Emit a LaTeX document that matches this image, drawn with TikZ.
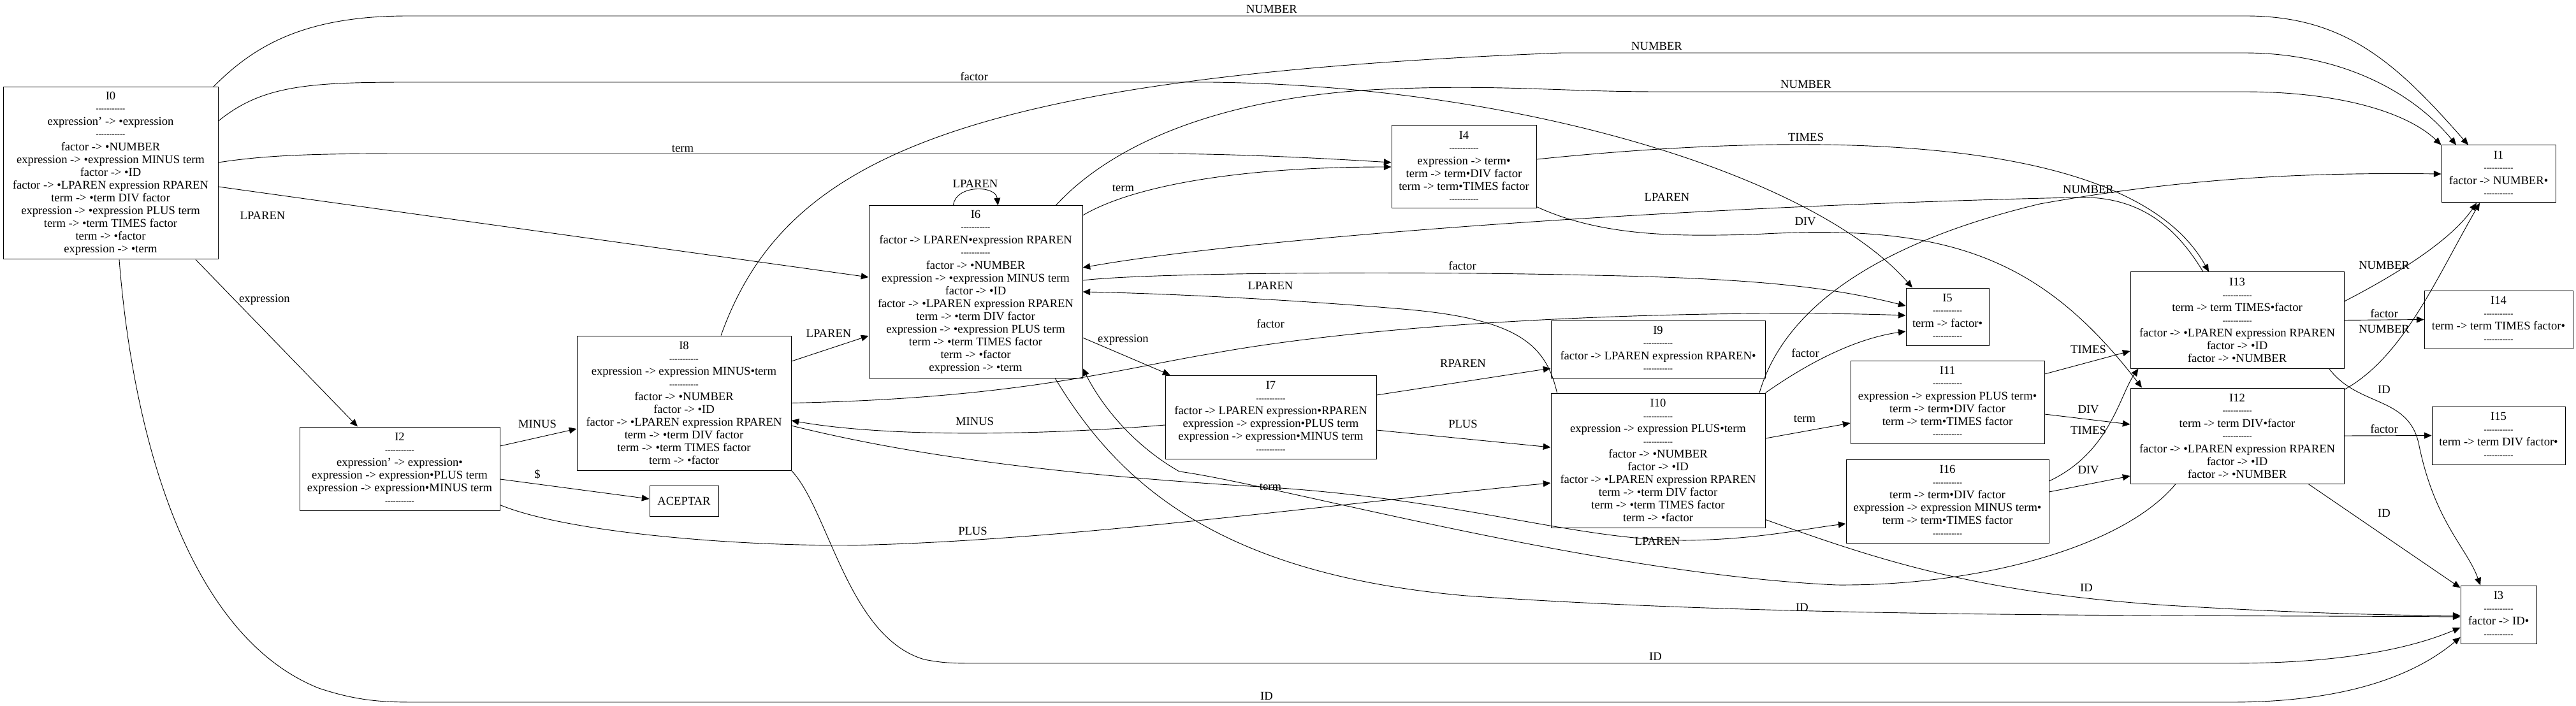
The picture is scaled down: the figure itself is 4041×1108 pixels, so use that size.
\documentclass[tikz,border=0pt]{standalone}
\usepackage{fontspec}
\setmainfont{Liberation Serif}
\usepackage{graphicx}
\usetikzlibrary{arrows.meta}
\newcommand{\rayas}{\raisebox{.9pt}{\bfseries\fontsize{7.5}{12}\selectfont -\kern0pt-\kern0pt-\kern0pt-\kern0pt-\kern0pt-\kern0pt-\kern0pt-\kern0pt-\kern0pt-\kern0pt-}}

\begin{document}
\begin{tikzpicture}[x=0.6pt,y=-0.6pt,
  font=\fontsize{11.16}{12}\selectfont,
  estado/.style 2 args={draw,line width=0.6pt,align=center,inner sep=0pt,minimum width=#1*0.6pt,minimum height=#2*0.6pt},
  flecha/.style={-{Triangle[length=7pt,width=6pt]},line width=0.55pt},
  etiq/.style={inner sep=1pt}]
\useasboundingbox (0,0) rectangle (4041,1108);

\node[estado={337}{270}] (I0) at (173.5,272) {I0\\\rayas\\expression' -> •expression\\\rayas\\factor -> •NUMBER\\expression -> •expression MINUS term\\factor -> •ID\\factor -> •LPAREN expression RPAREN\\term -> •term DIV factor\\expression -> •expression PLUS term\\term -> •term TIMES factor\\term -> •factor\\expression -> •term};
\node[estado={314}{131}] (I2) at (627,735.5) {I2\\\rayas\\expression' -> expression•\\expression -> expression•PLUS term\\expression -> expression•MINUS term\\\rayas};
\node[estado={108}{48}] (acep) at (1073,786) {ACEPTAR};
\node[estado={336}{211}] (I8) at (1073,632.5) {I8\\\rayas\\expression -> expression MINUS•term\\\rayas\\factor -> •NUMBER\\factor -> •ID\\factor -> •LPAREN expression RPAREN\\term -> •term DIV factor\\term -> •term TIMES factor\\term -> •factor};
\node[estado={335}{270}] (I6) at (1530.5,458) {I6\\\rayas\\factor -> LPAREN•expression RPAREN\\\rayas\\factor -> •NUMBER\\expression -> •expression MINUS term\\factor -> •ID\\factor -> •LPAREN expression RPAREN\\term -> •term DIV factor\\expression -> •expression PLUS term\\term -> •term TIMES factor\\term -> •factor\\expression -> •term};
\node[estado={227}{130}] (I4) at (2296.5,262) {I4\\\rayas\\expression -> term•\\term -> term•DIV factor\\term -> term•TIMES factor\\\rayas};
\node[estado={331}{131}] (I7) at (1993.5,654.5) {I7\\\rayas\\factor -> LPAREN expression•RPAREN\\expression -> expression•PLUS term\\expression -> expression•MINUS term\\\rayas};
\node[estado={336}{90}] (I9) at (2601,548) {I9\\\rayas\\factor -> LPAREN expression RPAREN•\\\rayas};
\node[estado={336}{211}] (I10) at (2601,722.5) {I10\\\rayas\\expression -> expression PLUS•term\\\rayas\\factor -> •NUMBER\\factor -> •ID\\factor -> •LPAREN expression RPAREN\\term -> •term DIV factor\\term -> •term TIMES factor\\term -> •factor};
\node[estado={130}{90}] (I5) at (3055,497) {I5\\\rayas\\term -> factor•\\\rayas};
\node[estado={304}{130}] (I11) at (3055,631) {I11\\\rayas\\expression -> expression PLUS term•\\term -> term•DIV factor\\term -> term•TIMES factor\\\rayas};
\node[estado={318}{131}] (I16) at (3055,786.5) {I16\\\rayas\\term -> term•DIV factor\\expression -> expression MINUS term•\\term -> term•TIMES factor\\\rayas};
\node[estado={335}{151}] (I13) at (3509.5,502.5) {I13\\\rayas\\term -> term TIMES•factor\\\rayas\\factor -> •LPAREN expression RPAREN\\factor -> •ID\\factor -> •NUMBER};
\node[estado={335}{150}] (I12) at (3509.5,684) {I12\\\rayas\\term -> term DIV•factor\\\rayas\\factor -> •LPAREN expression RPAREN\\factor -> •ID\\factor -> •NUMBER};
\node[estado={179}{90}] (I1) at (3919.5,273) {I1\\\rayas\\factor -> NUMBER•\\\rayas};
\node[estado={233}{91}] (I14) at (3919.5,501.5) {I14\\\rayas\\term -> term TIMES factor•\\\rayas};
\node[estado={209}{91}] (I15) at (3919.5,683.5) {I15\\\rayas\\term -> term DIV factor•\\\rayas};
\node[estado={119}{91}] (I3) at (3919.5,964.5) {I3\\\rayas\\factor -> ID•\\\rayas};

\node[etiq] (l1) at (1995,15) {NUMBER};
\node[etiq] (l2) at (2599,73) {NUMBER};
\node[etiq] (l3) at (2833,133) {NUMBER};
\node[etiq] (l4) at (1528,120) {factor};
\node[etiq] (l5) at (2833,215) {TIMES};
\node[etiq] (l6) at (1071,233) {term};
\node[etiq] (l7) at (1530,288) {LPAREN};
\node[etiq] (l8) at (1762,295) {term};
\node[etiq] (l9) at (2615,309) {LPAREN};
\node[etiq] (l10) at (3276,298) {NUMBER};
\node[etiq] (l11) at (2832,348) {DIV};
\node[etiq] (l12) at (412,338) {LPAREN};
\node[etiq] (l13) at (2294,417) {factor};
\node[etiq] (l14) at (1993,448) {LPAREN};
\node[etiq] (l15) at (415,470) {expression};
\node[etiq] (l16) at (1762,533) {expression};
\node[etiq] (l17) at (1993,508) {factor};
\node[etiq] (l18) at (1300,523) {LPAREN};
\node[etiq] (l19) at (2832,554) {factor};
\node[etiq] (l20) at (2295,570) {RPAREN};
\node[etiq] (l21) at (3276,548) {TIMES};
\node[etiq] (l22) at (3740,417) {NUMBER};
\node[etiq] (l23) at (3740,492) {factor};
\node[etiq] (l24) at (3740,517) {NUMBER};
\node[etiq] (l25) at (3740,611) {ID};
\node[etiq] (l26) at (3276,643) {DIV};
\node[etiq] (l27) at (3276,675) {TIMES};
\node[etiq] (l28) at (3740,673) {factor};
\node[etiq] (l29) at (3740,805) {ID};
\node[etiq] (l30) at (843,665) {MINUS};
\node[etiq] (l31) at (1529,661) {MINUS};
\node[etiq] (l32) at (2295,665) {PLUS};
\node[etiq] (l33) at (2831,657) {term};
\node[etiq] (l34) at (843,744) {\$};
\node[etiq] (l35) at (1993,764) {term};
\node[etiq] (l36) at (1526,833) {PLUS};
\node[etiq] (l37) at (2600,849) {LPAREN};
\node[etiq] (l38) at (3276,738) {DIV};
\node[etiq] (l39) at (2827,953) {ID};
\node[etiq] (l40) at (3273,922) {ID};
\node[etiq] (l41) at (2597,1030) {ID};
\node[etiq] (l42) at (1987,1092) {ID};

% transiciones de I0
\draw[flecha] ([shift={(-8,0)}]I0.north east) .. controls (400,70) and (480,25) .. (640,25) -- (3523,25) .. controls (3680,25) and (3760,100) .. ([shift={(-47.5,0)}]I1.north);
\draw[flecha] ([shift={(0,-82)}]I0.east) .. controls (410,135) and (480,129) .. (640,129) -- (1900,129) .. controls (2400,135) and (2850,280) .. ([shift={(-55,0)}]I5.north);
\draw[flecha] ([shift={(0,-17)}]I0.east) .. controls (420,243) and (500,241) .. (640,241) -- (1800,241) .. controls (1950,241) and (2100,250) .. ([shift={(0,-7)}]I4.west);
\draw[flecha] ([shift={(0,21)}]I0.east) -- ([shift={(0,-23)}]I6.west);
\draw[flecha] ([shift={(133.5,0)}]I0.south) -- ([shift={(-66,0)}]I2.north);
\draw[flecha] ([shift={(13.5,0)}]I0.south) .. controls (210,700) and (300,1000) .. (500,1080) .. controls (560,1100) and (600,1102) .. (650,1102) -- (3500,1102) .. controls (3700,1102) and (3800,1050) .. ([shift={(0,35.5)}]I3.west);

% I2
\draw[flecha] ([shift={(0,-35.5)}]I2.east) -- ([shift={(0,40.5)}]I8.west);
\draw[flecha] ([shift={(0,16.5)}]I2.east) -- ([shift={(0,-3)}]acep.west);
\draw[flecha] ([shift={(0,-9)}]I2.south east) .. controls (900,840) and (1200,860) .. (1370,855) .. controls (1700,845) and (2100,790) .. ([shift={(0,35.5)}]I10.west);

% I8
\draw[flecha] ([shift={(58,0)}]I8.north) .. controls (1230,250) and (1500,120) .. (2450,83) -- (3520,83) .. controls (3680,83) and (3790,150) .. ([shift={(-66.5,0)}]I1.north);
\draw[flecha] ([shift={(0,-65.5)}]I8.east) -- ([shift={(0,69)}]I6.west);
\draw[flecha] (I8.east) .. controls (1600,625) and (1750,580) .. (1900,555) .. controls (2200,500) and (2700,485) .. ([shift={(0,-2)}]I5.west);
\draw[flecha] ([shift={(0,35.5)}]I8.east) .. controls (1450,720) and (1700,748) .. (1994,765) .. controls (2300,785) and (2480,850) .. (2650,848) .. controls (2760,846) and (2830,830) .. ([shift={(0,35.5)}]I16.west);
\draw[flecha] (I8.south east) .. controls (1300,800) and (1330,1000) .. (1450,1035) .. controls (1480,1041) and (1500,1041) .. (1530,1041) -- (3500,1041) .. controls (3700,1041) and (3800,1010) .. ([shift={(0,20.5)}]I3.west);

% I6
\draw[flecha] ([shift={(-35,0)}]I6.north) .. controls (1498,290) and (1562,290) .. ([shift={(35,0)}]I6.north);
\draw[flecha] ([shift={(125.5,0)}]I6.north) .. controls (1760,210) and (1950,150) .. (2170,140) .. controls (2350,132) and (2450,144) .. (2600,144) -- (3520,144) .. controls (3680,144) and (3780,180) .. (I1.north west);
\draw[flecha] ([shift={(0,-120)}]I6.east) .. controls (1780,290) and (1950,262) .. (I4.west);
\draw[flecha] ([shift={(0,-18)}]I6.east) .. controls (1800,428) and (2200,425) .. (2500,432) .. controls (2750,437) and (2870,450) .. ([shift={(0,-17)}]I5.west);
\draw[flecha] ([shift={(0,72)}]I6.east) -- ([shift={(8,0)}]I7.north west);
\draw[flecha] ([shift={(124.5,0)}]I6.south) .. controls (1750,750) and (1900,900) .. (2300,935) .. controls (2800,970) and (3400,965) .. ([shift={(0,3.5)}]I3.west);

% I4
\draw[flecha] ([shift={(0,-12)}]I4.east) .. controls (2900,200) and (3350,220) .. ([shift={(-44.5,0)}]I13.north);
\draw[flecha] ([shift={(0,-3)}]I4.south east) .. controls (2520,375) and (2650,370) .. (2750,368) .. controls (3050,350) and (3200,400) .. ([shift={(-149.5,0)}]I12.north);

% I7
\draw[flecha] ([shift={(0,-34.5)}]I7.east) -- ([shift={(0,30)}]I9.west);
\draw[flecha] ([shift={(0,12.5)}]I7.west) .. controls (1650,682) and (1400,688) .. ([shift={(0,27.5)}]I8.east);
\draw[flecha] ([shift={(0,20.5)}]I7.east) -- ([shift={(0,-20.5)}]I10.west);

% I10
\draw[flecha] ([shift={(159,0)}]I10.north) .. controls (2800,480) and (2950,380) .. (3200,320) .. controls (3450,275) and (3650,271) .. (I1.west);
\draw[flecha] ([shift={(10,0)}]I10.north west) .. controls (2425,540) and (2380,500) .. (2200,485) .. controls (2000,468) and (1800,460) .. (I6.east);
\draw[flecha] (I10.north east) .. controls (2850,560) and (2920,530) .. ([shift={(0,23)}]I5.west);
\draw[flecha] ([shift={(0,-34.5)}]I10.east) -- ([shift={(0,33)}]I11.west);
\draw[flecha] ([shift={(0,-13)}]I10.south east) .. controls (2950,880) and (3100,930) .. (3400,950) .. controls (3600,962) and (3750,966) .. ([shift={(0,1.5)}]I3.west);

% I11, I16
\draw[flecha] ([shift={(0,-44)}]I11.east) -- ([shift={(0,48.5)}]I13.west);
\draw[flecha] ([shift={(0,19)}]I11.east) -- ([shift={(0,-18)}]I12.west);
\draw[flecha] ([shift={(0,-31.5)}]I16.east) .. controls (3310,710) and (3325,620) .. ([shift={(13,0)}]I13.south west);
\draw[flecha] ([shift={(0,-14.5)}]I16.east) -- ([shift={(0,63)}]I12.west);

% I13
\draw[flecha] ([shift={(-53.5,0)}]I13.north) .. controls (3410,350) and (3350,305) .. (3250,310) .. controls (2600,325) and (1950,375) .. ([shift={(0,-38)}]I6.east);
\draw[flecha] ([shift={(0,-29.5)}]I13.east) .. controls (3780,420) and (3850,370) .. ([shift={(-34.5,0)}]I1.south);
\draw[flecha] (I13.east) -- (I14.west);
\draw[flecha] ([shift={(-24,0)}]I13.south east) .. controls (3700,640) and (3780,620) .. (3795,700) .. controls (3820,820) and (3870,860) .. ([shift={(-28.5,0)}]I3.north);

% I12
\draw[flecha] ([shift={(0,3)}]I12.north east) .. controls (3770,560) and (3820,440) .. ([shift={(-29.5,0)}]I1.south);
\draw[flecha] (I12.east) -- (I15.west);
\draw[flecha] ([shift={(111.5,0)}]I12.south) -- ([shift={(0,4)}]I3.north west);
\draw[flecha] ([shift={(-96.5,0)}]I12.south) .. controls (3330,860) and (3100,920) .. (2880,918) .. controls (2500,900) and (2000,760) .. (1850,740) .. controls (1780,700) and (1730,640) .. ([shift={(0,120)}]I6.east);
\end{tikzpicture}
\end{document}
